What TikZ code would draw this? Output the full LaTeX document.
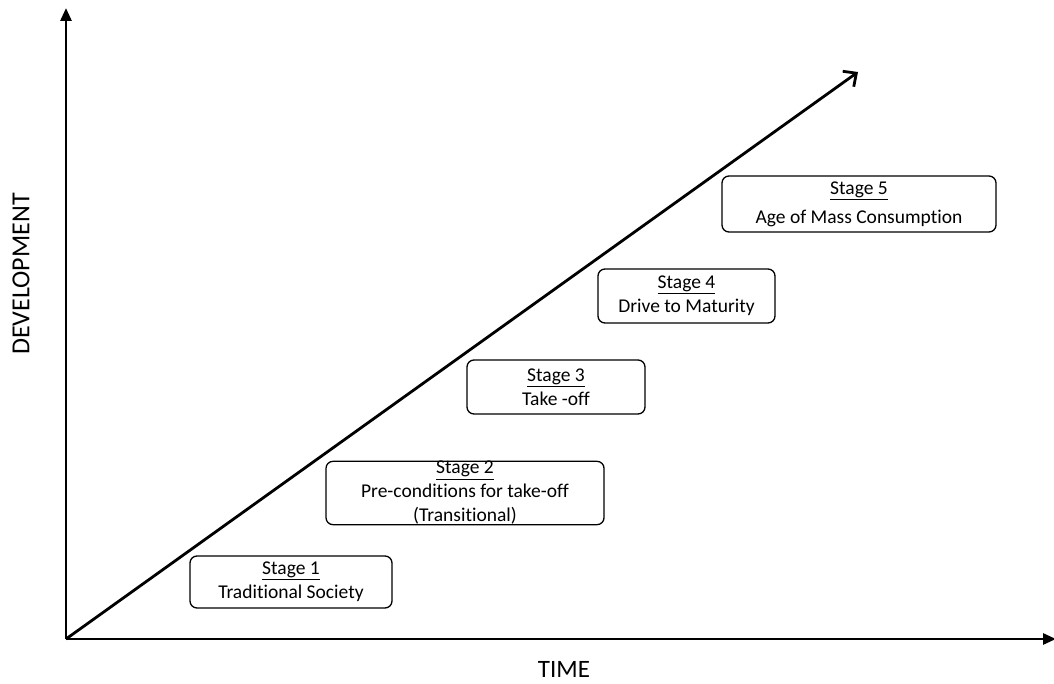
\documentclass[tikz,border=0pt]{standalone}
\usepackage{fontspec}
\setmainfont{Carlito}[Ligatures=NoCommon]
\usetikzlibrary{arrows.meta,positioning}

\tikzset{
  stagebox/.style={draw,rounded corners=7pt,line width=1.3pt,align=center,
    font=\fontsize{19.5}{24}\selectfont,inner sep=0pt},
  axislabel/.style={font=\fontsize{26}{30}\selectfont,inner sep=0pt},
}

\begin{document}
\begin{tikzpicture}[x=1pt,y=-1pt]
\useasboundingbox (0,0) rectangle (1054,684);
% axes
\coordinate (o) at (66,639);
\coordinate (ytop) at (66,8);
\coordinate (xend) at (1056,639);
\coordinate (dtop) at (858,72);
\draw[line width=2.8pt,-{Triangle[length=13pt,width=11pt]}] (o) -- (ytop);
\draw[line width=2.8pt,-{Triangle[length=13pt,width=11pt]}] (o) -- (xend);
\draw[line width=2.8pt,-{Straight Barb[length=10pt,width=19pt]}] (o) -- (dtop);
\node[axislabel,rotate=90] (dev) at (21,274) {DEVELOPMENT};
\node[axislabel,font=\fontsize{25}{28}\selectfont,anchor=base] (time) at (564,677) {TIME};
% stages
\node[stagebox,minimum width=202pt,minimum height=52pt] (s1) at (291,582) {\underline{Stage 1}\\Traditional Society};
\node[stagebox,minimum width=278pt,minimum height=62pt] (s2) at (465,493) {\underline{Stage 2}\\Pre-conditions for take-off\\(Transitional)};
\node[stagebox,minimum width=178pt,minimum height=54pt] (s3) at (556,387) {\underline{Stage 3}\\Take -off};
\node[stagebox,minimum width=177pt,minimum height=54pt] (s4) at (686.5,296) {\underline{Stage 4}\\Drive to Maturity};
\node[stagebox,minimum width=274pt,minimum height=56pt] (s5) at (859,204) {\underline{Stage 5}\\[5pt]Age of Mass Consumption};
\end{tikzpicture}
\end{document}
